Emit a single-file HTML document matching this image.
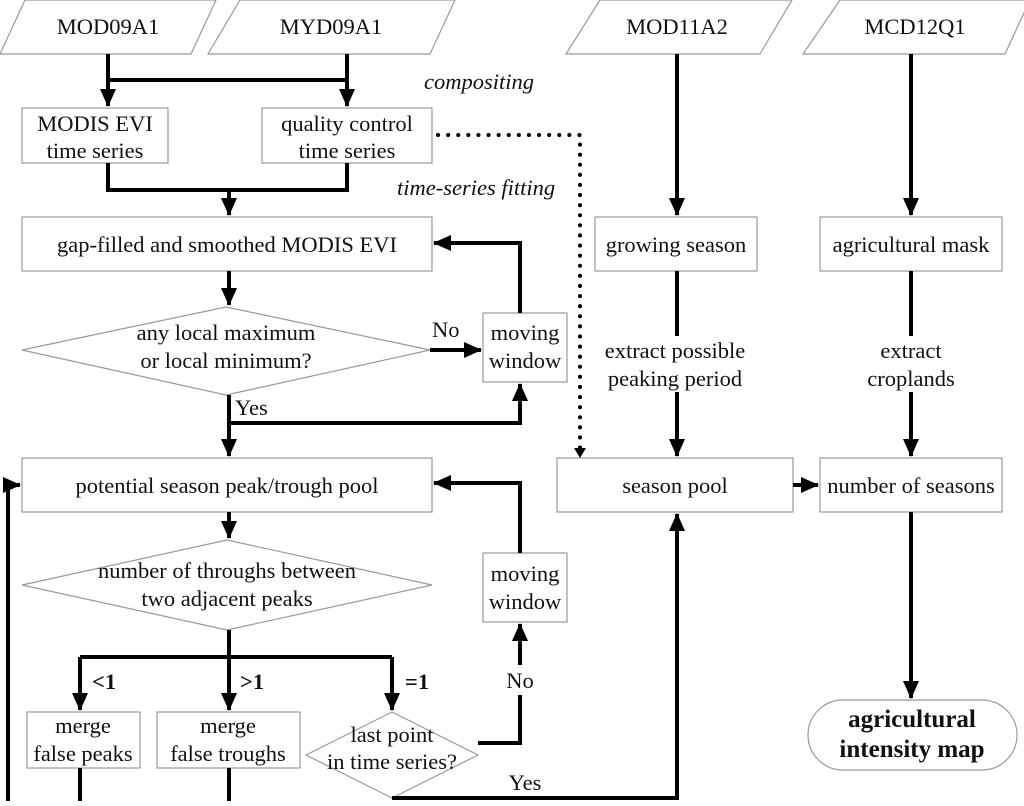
<!DOCTYPE html>
<html><head><meta charset="utf-8"><style>
html,body{margin:0;padding:0;background:#fff}
svg text{font-family:"Liberation Serif",serif;font-size:22.5px;fill:#111}
</style></head><body>
<svg width="1024" height="801" viewBox="0 0 1024 801" xmlns="http://www.w3.org/2000/svg">
<defs>
<marker id="A" markerWidth="18" markerHeight="18" refX="17" refY="9" orient="auto" markerUnits="userSpaceOnUse"><path d="M0,1 L18,9 L0,17 z" fill="#000"/></marker>
</defs>
<g fill="#fff" stroke="#999" stroke-width="1.2">
<polygon points="25,0 216,0 191,54 0,54"/>
<polygon points="240,0 455,0 430,54 208,54"/>
<polygon points="600,0 792,0 760,54 566,54"/>
<polygon points="840,0 1030,0 1005,54 803,54"/>
<rect x="22" y="108" width="146" height="55"/>
<rect x="262" y="108" width="170" height="55"/>
<rect x="22" y="217" width="410" height="54"/>
<polygon points="22,350 226,307 430,350 226,395"/>
<rect x="483" y="313" width="84" height="69"/>
<rect x="22" y="458" width="410" height="54"/>
<polygon points="22,585 227,540 432,585 227,630"/>
<rect x="483" y="553" width="84" height="69"/>
<rect x="27" y="712" width="113" height="56"/>
<rect x="157" y="712" width="143" height="56"/>
<polygon points="306,755 392,712 478,755 392,798"/>
<rect x="595" y="217" width="162" height="54"/>
<rect x="820" y="217" width="182" height="54"/>
<rect x="557" y="458" width="236" height="54"/>
<rect x="820" y="458" width="182" height="54"/>
<rect x="808" y="700" width="209" height="70" rx="35"/>
</g>
<g fill="none" stroke="#000" stroke-width="4">
<path d="M108,54 V106" marker-end="url(#A)"/>
<path d="M347,54 V106" marker-end="url(#A)"/>
<path d="M108,80 H347"/>
<path d="M108,163 V190 H347 V163"/>
<path d="M229,190 V215" marker-end="url(#A)"/>
<path d="M229,271 V305" marker-end="url(#A)"/>
<path d="M430,350 H481" marker-end="url(#A)"/>
<path d="M520,313 V243 H434" marker-end="url(#A)"/>
<path d="M229,395 V456" marker-end="url(#A)"/>
<path d="M229,423 H520 V384" marker-end="url(#A)"/>
<path d="M229,512 V538" marker-end="url(#A)"/>
<path d="M520,553 V483 H434" marker-end="url(#A)"/>
<path d="M229,630 V710" marker-end="url(#A)"/>
<path d="M80,657 H392"/>
<path d="M80,657 V710" marker-end="url(#A)"/>
<path d="M392,657 V710" marker-end="url(#A)"/>
<path d="M478,743 H520 V624" marker-end="url(#A)"/>
<path d="M392,798 V798 H677 V514" marker-end="url(#A)"/>
<path d="M80,768 V801 M229,768 V801"/>
<path d="M8,801 V485 H20" marker-end="url(#A)"/>
<path d="M677,54 V215" marker-end="url(#A)"/>
<path d="M677,271 V456" marker-end="url(#A)"/>
<path d="M911,54 V215" marker-end="url(#A)"/>
<path d="M911,271 V456" marker-end="url(#A)"/>
<path d="M793,485 H818" marker-end="url(#A)"/>
<path d="M911,512 V698" marker-end="url(#A)"/>
</g>
<path d="M438,135 H580 V450" fill="none" stroke="#000" stroke-width="4" stroke-dasharray="0.1 10" stroke-linecap="round"/>
<path d="M574,448 L580,458 L586,448 z" fill="#000"/>
<g fill="#fff">
<rect x="598" y="336" width="158" height="56"/>
<rect x="865" y="336" width="92" height="56"/>
<rect x="503" y="665" width="34" height="30"/>
</g>
<g text-anchor="middle">
<text x="108" y="34">MOD09A1</text>
<text x="331" y="34">MYD09A1</text>
<text x="677" y="34">MOD11A2</text>
<text x="915" y="34">MCD12Q1</text>
<text x="95" y="131">MODIS EVI</text>
<text x="95" y="158">time series</text>
<text x="347" y="131">quality control</text>
<text x="347" y="158">time series</text>
<text x="227" y="252">gap-filled and smoothed MODIS EVI</text>
<text x="226" y="340">any local maximum</text>
<text x="226" y="368">or local minimum?</text>
<text x="525" y="340">moving</text>
<text x="525" y="368">window</text>
<text x="227" y="493">potential season peak/trough pool</text>
<text x="227" y="578">number of throughs between</text>
<text x="227" y="606">two adjacent peaks</text>
<text x="525" y="581">moving</text>
<text x="525" y="609">window</text>
<text x="83" y="733">merge</text>
<text x="83" y="761">false peaks</text>
<text x="228" y="733">merge</text>
<text x="228" y="761">false troughs</text>
<text x="392" y="742">last point</text>
<text x="392" y="769">in time series?</text>
<text x="676" y="252">growing season</text>
<text x="911" y="252">agricultural mask</text>
<text x="675" y="358">extract possible</text>
<text x="675" y="386">peaking period</text>
<text x="911" y="358">extract</text>
<text x="911" y="386">croplands</text>
<text x="675" y="493">season pool</text>
<text x="911" y="493">number of seasons</text>
<text x="912" y="727" style="font-weight:bold;font-size:25px">agricultural</text>
<text x="912" y="757" style="font-weight:bold;font-size:25px">intensity map</text>
<text x="520" y="688">No</text>
<text x="525" y="790">Yes</text>
</g>
<text x="432" y="337">No</text>
<text x="235" y="415">Yes</text>
<text x="92" y="689" style="font-weight:bold">&lt;1</text>
<text x="240" y="689" style="font-weight:bold">&gt;1</text>
<text x="405" y="689" style="font-weight:bold">=1</text>
<text x="424" y="89" style="font-style:italic">compositing</text>
<text x="397" y="195" style="font-style:italic">time-series fitting</text>
</svg>
</body></html>
